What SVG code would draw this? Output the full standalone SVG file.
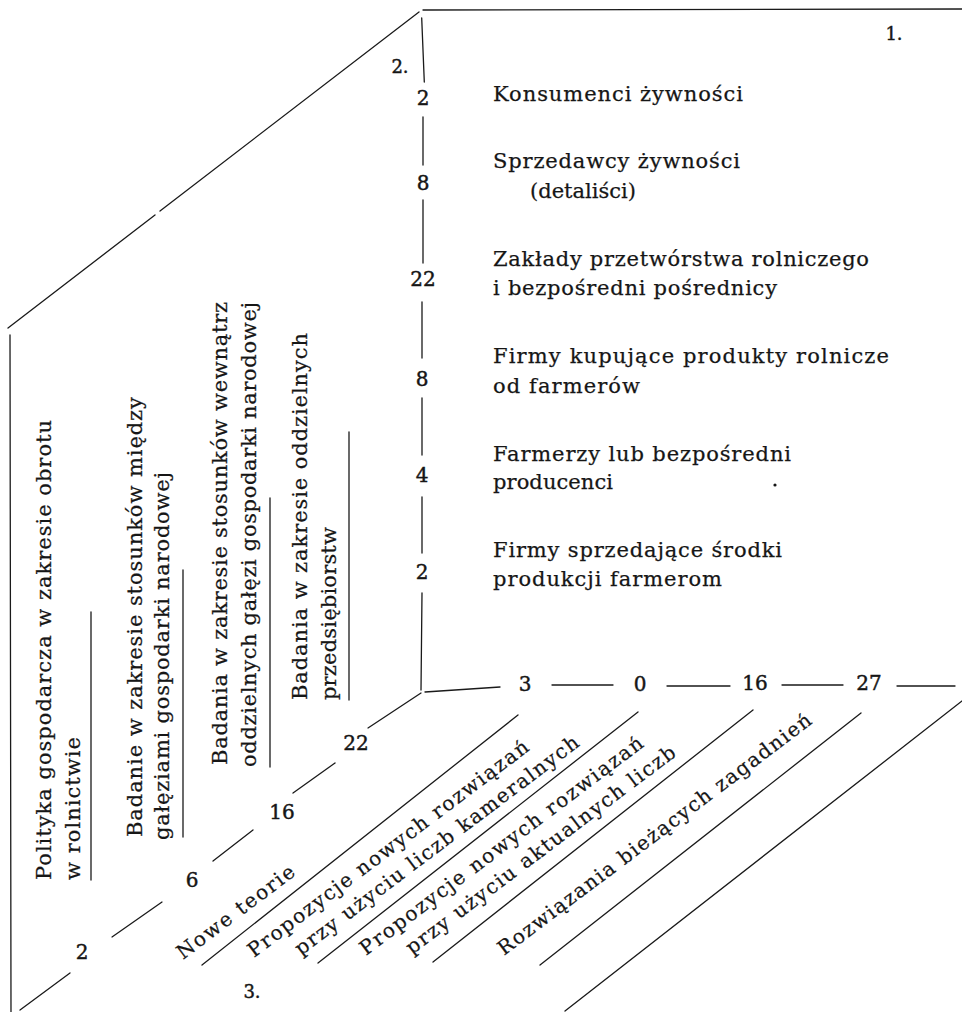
<svg xmlns="http://www.w3.org/2000/svg" width="962" height="1012" viewBox="0 0 962 1012">
<style>
.t{font-family:"DejaVu Serif","Liberation Serif",serif;font-size:21px;fill:#161616;stroke:#161616;stroke-width:0.25}
.d{font-size:20px}
.n{font-family:"DejaVu Serif","Liberation Serif",serif;font-size:20px;fill:#161616;stroke:#161616;stroke-width:0.45;text-anchor:middle}
.s{font-size:18px}
.ln{stroke:#1a1a1a;stroke-width:1.3;fill:none;stroke-linecap:round}
</style>
<rect width="962" height="1012" fill="#ffffff"/>

<g id="connectors" class="ln">
  <line x1="419" y1="12" x2="160" y2="211"/>
  <line x1="155" y1="215" x2="8" y2="328"/>
  <line x1="423" y1="10" x2="962" y2="9"/>
  <line x1="10" y1="335" x2="11" y2="1012"/>
  <line x1="421.7" y1="18" x2="424.3" y2="82"/>
  <line x1="423" y1="117" x2="423" y2="165"/>
  <line x1="423" y1="200" x2="423" y2="263"/>
  <line x1="422" y1="302" x2="422" y2="358"/>
  <line x1="422" y1="398" x2="422" y2="455"/>
  <line x1="422" y1="497" x2="422" y2="553"/>
  <line x1="422" y1="593" x2="421" y2="690"/>
  <line x1="425" y1="692" x2="500" y2="687"/>
  <line x1="552" y1="685" x2="613" y2="685"/>
  <line x1="667" y1="686" x2="730" y2="686"/>
  <line x1="782" y1="685" x2="843" y2="685"/>
  <line x1="897" y1="686" x2="955" y2="686"/>
  <line x1="421" y1="693" x2="368" y2="728"/>
  <line x1="335" y1="763" x2="293" y2="793"/>
  <line x1="253" y1="830" x2="213" y2="861"/>
  <line x1="162" y1="902" x2="112" y2="937"/>
  <line x1="70" y1="973" x2="20" y2="1010"/>
  <line x1="91" y1="612" x2="91" y2="880"/>
  <line x1="183" y1="570" x2="183" y2="837"/>
  <line x1="270" y1="498" x2="270" y2="767"/>
  <line x1="349" y1="432" x2="349" y2="700"/>
  <line x1="518" y1="715" x2="202" y2="965"/>
  <line x1="638" y1="712" x2="318" y2="963"/>
  <line x1="753" y1="710" x2="433" y2="962"/>
  <line x1="861" y1="713" x2="540" y2="965"/>
  <line x1="962" y1="701" x2="565" y2="1011"/>
</g>

<g id="labels-corner">
  <text class="n s" x="400" y="73">2.</text>
  <text class="n s" x="894" y="40">1.</text>
  <text class="n s" x="252" y="998">3.</text>
</g>

<g id="axis-vertical-numbers">
  <text class="n" x="423" y="105">2</text>
  <text class="n" x="423" y="190">8</text>
  <text class="n" x="423" y="286">22</text>
  <text class="n" x="422" y="386">8</text>
  <text class="n" x="422" y="482">4</text>
  <text class="n" x="422" y="579">2</text>
</g>

<g id="axis-horizontal-numbers">
  <text class="n" x="525" y="691">3</text>
  <text class="n" x="640" y="691">0</text>
  <text class="n" x="755" y="690">16</text>
  <text class="n" x="869" y="690">27</text>
</g>

<g id="axis-diagonal-numbers">
  <text class="n" x="356" y="750">22</text>
  <text class="n" x="282" y="819">16</text>
  <text class="n" x="192" y="887">6</text>
  <text class="n" x="82" y="959">2</text>
</g>

<g id="node-konsumenci">
  <text class="t" x="493" y="101" textLength="250" lengthAdjust="spacing">Konsumenci żywności</text>
</g>
<g id="node-sprzedawcy">
  <text class="t" x="493" y="168" textLength="247" lengthAdjust="spacing">Sprzedawcy żywności</text>
  <text class="t" x="530" y="198" textLength="106" lengthAdjust="spacing">(detaliści)</text>
</g>
<g id="node-zaklady">
  <text class="t" x="493" y="266" textLength="376" lengthAdjust="spacing">Zakłady przetwórstwa rolniczego</text>
  <text class="t" x="493" y="295" textLength="284" lengthAdjust="spacing">i bezpośredni pośrednicy</text>
</g>
<g id="node-firmy-kupujace">
  <text class="t" x="493" y="363" textLength="396" lengthAdjust="spacing">Firmy kupujące produkty rolnicze</text>
  <text class="t" x="493" y="393" textLength="147" lengthAdjust="spacing">od farmerów</text>
</g>
<g id="node-farmerzy">
  <text class="t" x="493" y="461" textLength="298" lengthAdjust="spacing">Farmerzy lub bezpośredni</text>
  <text class="t" x="493" y="489" textLength="120" lengthAdjust="spacing">producenci</text>
  <circle cx="775" cy="485" r="1.6" fill="#161616"/>
</g>
<g id="node-firmy-sprzedajace">
  <text class="t" x="493" y="557" textLength="289" lengthAdjust="spacing">Firmy sprzedające środki</text>
  <text class="t" x="493" y="586" textLength="229" lengthAdjust="spacing">produkcji farmerom</text>
</g>

<g id="node-polityka">
  <text class="t" transform="translate(51,880) rotate(-90)" textLength="460" lengthAdjust="spacing">Polityka gospodarcza w zakresie obrotu</text>
  <text class="t" transform="translate(80,880) rotate(-90)" textLength="143" lengthAdjust="spacing">w rolnictwie</text>
</g>
<g id="node-badanie-miedzy">
  <text class="t" transform="translate(142,837) rotate(-90)" textLength="440" lengthAdjust="spacing">Badanie w zakresie stosunków między</text>
  <text class="t" transform="translate(169,840) rotate(-90)" textLength="368" lengthAdjust="spacing">gałęziami gospodarki narodowej</text>
</g>
<g id="node-badania-wewnatrz">
  <text class="t" transform="translate(227,765) rotate(-90)" textLength="463" lengthAdjust="spacing">Badania w zakresie stosunków wewnątrz</text>
  <text class="t" transform="translate(256,767) rotate(-90)" textLength="465" lengthAdjust="spacing">oddzielnych gałęzi gospodarki narodowej</text>
</g>
<g id="node-badania-przedsiebiorstw">
  <text class="t" transform="translate(307,700) rotate(-90)" textLength="367" lengthAdjust="spacing">Badania w zakresie oddzielnych</text>
  <text class="t" transform="translate(336,700) rotate(-90)" textLength="173" lengthAdjust="spacing">przedsiębiorstw</text>
</g>

<g id="node-nowe-teorie">
  <text class="t d" transform="translate(183,960) rotate(-37)" textLength="142" lengthAdjust="spacing">Nowe teorie</text>
</g>
<g id="node-propozycje-kameralne">
  <text class="t d" transform="translate(254,958) rotate(-37)" textLength="346" lengthAdjust="spacing">Propozycje nowych rozwiązań</text>
  <text class="t d" transform="translate(301,956) rotate(-37)" textLength="350" lengthAdjust="spacing">przy użyciu liczb kameralnych</text>
</g>
<g id="node-propozycje-aktualne">
  <text class="t d" transform="translate(366,956) rotate(-37)" textLength="349" lengthAdjust="spacing">Propozycje nowych rozwiązań</text>
  <text class="t d" transform="translate(412,955) rotate(-37)" textLength="332" lengthAdjust="spacing">przy użyciu aktualnych liczb</text>
</g>
<g id="node-rozwiazania">
  <text class="t d" transform="translate(504,956) rotate(-37)" textLength="387" lengthAdjust="spacing">Rozwiązania bieżących zagadnień</text>
</g>
</svg>
